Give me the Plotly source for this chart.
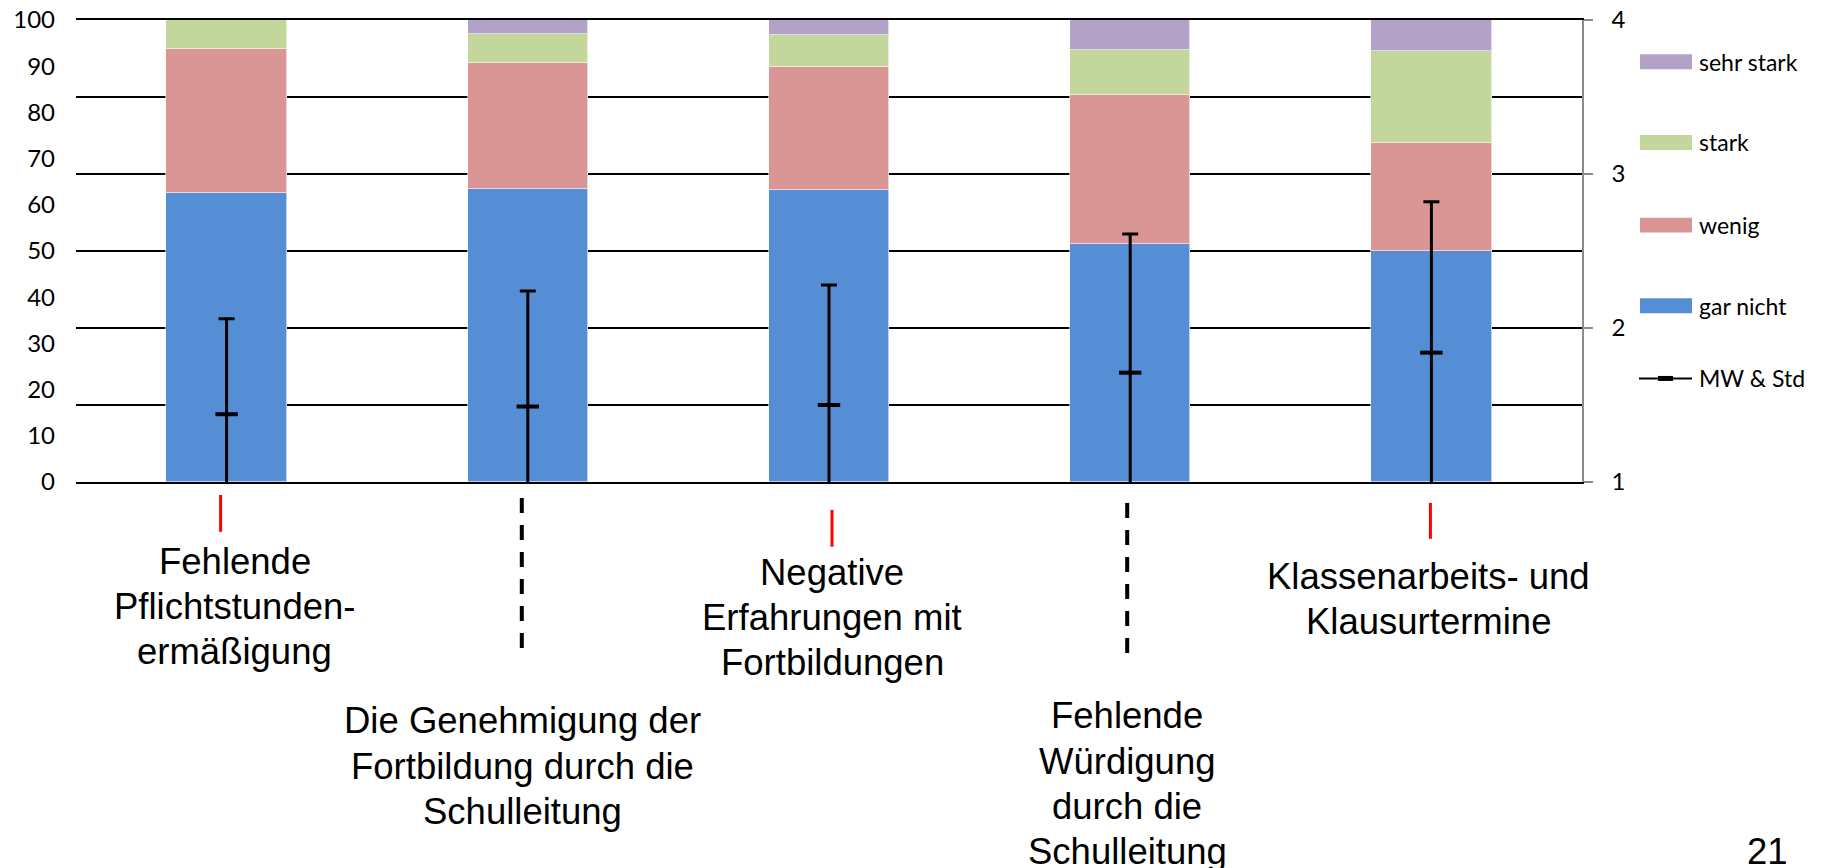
import plotly.graph_objects as go

# categories (x positions 0..4) and their multi-line labels
categories = [0, 1, 2, 3, 4]
label_lines = [
    ["Fehlende", "Pflichtstunden-", "ermäßigung"],
    ["Die Genehmigung der", "Fortbildung durch die", "Schulleitung"],
    ["Negative", "Erfahrungen mit", "Fortbildungen"],
    ["Fehlende", "Würdigung", "durch die", "Schulleitung"],
    ["Klassenarbeits- und", "Klausurtermine"],
]

# stacked shares in percent
gar_nicht = [62.5, 63.5, 63.2, 51.6, 50.0]
wenig = [31.25, 27.3, 26.7, 32.2, 23.3]
stark = [6.25, 6.2, 6.8, 9.7, 20.0]
sehr_stark = [0.0, 3.0, 3.3, 6.5, 6.7]

# mean and standard deviation (right axis, 1..4)
mw = [1.44, 1.49, 1.50, 1.71, 1.84]
std = [0.62, 0.75, 0.78, 0.90, 0.98]

series = [
    ("gar nicht", gar_nicht, "#558ED5"),
    ("wenig", wenig, "#D99694"),
    ("stark", stark, "#C3D69B"),
    ("sehr stark", sehr_stark, "#B3A2C7"),
]

# plot area in screen pixels; the page body adds an 8px offset
OFF = 8
W, H = 1823 - OFF, 868 - OFF
PL, PR, PT, PB = 76, 1582, 18, 482


def px_x(px):
    return (px - PL) / (PR - PL)


def px_y(py):
    return (PB - py) / (PB - PT)


fig = go.Figure()

# Draw stacked bars
for name, vals, color in series:
    fig.add_trace(
        go.Bar(
            x=categories,
            y=vals,
            name=name,
            width=0.4,
            marker_color=color,
            marker_line=dict(color="rgba(255,255,255,0.6)", width=1),
            showlegend=False,
        )
    )

# Draw mean + std on the secondary axis
fig.add_trace(
    go.Scatter(
        x=categories,
        y=mw,
        yaxis="y2",
        mode="markers",
        name="MW & Std",
        marker=dict(symbol="line-ew", size=16, line=dict(color="black", width=4)),
        error_y=dict(
            type="data", array=std, visible=True,
            color="black", thickness=3, width=8,
        ),
        showlegend=False,
    )
)

# Category labels with their connector marks
label_font = dict(family="Liberation Sans, Arial", size=36.5, color="black")
first_line_y = [562, 722, 573, 717, 577]
line_step = 45.3
text_shift = [8, -5, 3, -3, -3]
connectors = [
    (495, 532, "red"),
    (498, 653, "dash"),
    (510, 547, "red"),
    (503, 657, "dash"),
    (503, 539, "red"),
]
line_shift = [-6, -6, 3, -3, -1]

annotations = []
shapes = []
for i, lines in enumerate(label_lines):
    for k, txt in enumerate(lines):
        annotations.append(dict(
            x=categories[i], xref="x", xshift=text_shift[i],
            y=px_y(first_line_y[i] + k * line_step), yref="paper",
            text=txt, showarrow=False, font=label_font,
            xanchor="center", yanchor="middle",
        ))
    y0, y1, kind = connectors[i]
    shift = line_shift[i] / ((PR - PL) / 5)
    if kind == "red":
        ln = dict(color="#FF0000", width=3)
    else:
        ln = dict(color="black", width=4, dash="15px,12px")
    shapes.append(dict(
        type="line", xref="x", yref="paper",
        x0=categories[i] + shift, x1=categories[i] + shift,
        y0=px_y(y0), y1=px_y(y1), line=ln,
    ))

# Hand-made legend to the right
legend_font = dict(family="Lato", size=23, color="black")
legend_rows = [("sehr stark", "#B3A2C7", 60), ("stark", "#C3D69B", 141),
               ("wenig", "#D99694", 224), ("gar nicht", "#558ED5", 305)]
for name, color, cy in legend_rows:
    shapes.append(dict(
        type="rect", xref="paper", yref="paper",
        x0=px_x(1640), x1=px_x(1692), y0=px_y(cy + 7.5), y1=px_y(cy - 7.5),
        fillcolor=color, line=dict(width=0),
    ))
    annotations.append(dict(
        x=px_x(1697), y=px_y(cy), xref="paper", yref="paper", text=name,
        showarrow=False, xanchor="left", yanchor="middle", font=legend_font,
    ))
shapes.append(dict(type="line", xref="paper", yref="paper",
                   x0=px_x(1639), x1=px_x(1692), y0=px_y(378), y1=px_y(378),
                   line=dict(color="black", width=2)))
shapes.append(dict(type="line", xref="paper", yref="paper",
                   x0=px_x(1658), x1=px_x(1673), y0=px_y(378), y1=px_y(378),
                   line=dict(color="black", width=5)))
annotations.append(dict(
    x=px_x(1697), y=px_y(378), xref="paper", yref="paper", text="MW & Std",
    showarrow=False, xanchor="left", yanchor="middle", font=legend_font,
))

# page number
annotations.append(dict(
    x=px_x(1768), y=px_y(853), xref="paper", yref="paper", text="21",
    showarrow=False, xanchor="center", yanchor="middle", font=label_font,
))

tick_font = dict(family="Lato", size=24, color="black")

fig.update_xaxes(
    range=[-0.5, 4.5], showticklabels=False, showgrid=False, zeroline=False,
    showline=True, mirror=True, linecolor="black", linewidth=2, ticks="",
)
fig.update_layout(
    yaxis=dict(
        range=[0, 100], dtick=10, showgrid=False, zeroline=False,
        showline=False, ticks="", tickfont=tick_font, ticklabelstandoff=20,
        automargin=False, ticklabeloverflow="allow",
    ),
    yaxis2=dict(
        overlaying="y", side="right", range=[1, 4], dtick=1,
        showgrid=True, gridcolor="black", gridwidth=2,
        minor=dict(dtick=0.5, showgrid=True, gridcolor="black", gridwidth=2, ticks=""),
        showline=True, linecolor="#8C8C8C", linewidth=1.5,
        ticks="outside", ticklen=9, tickcolor="#8C8C8C", tickwidth=1.5,
        tickfont=tick_font, ticklabelstandoff=14, zeroline=False,
        automargin=False, ticklabeloverflow="allow",
    ),
    barmode="stack",
    bargap=0,
    shapes=shapes,
    annotations=annotations,
    autosize=False,
    width=W,
    height=H,
    margin=dict(l=PL - OFF, r=W - (PR - OFF), t=PT - OFF, b=H - (PB - OFF), pad=0),
    plot_bgcolor="white",
    paper_bgcolor="white",
    showlegend=False,
)

fig.write_html("out.html")
